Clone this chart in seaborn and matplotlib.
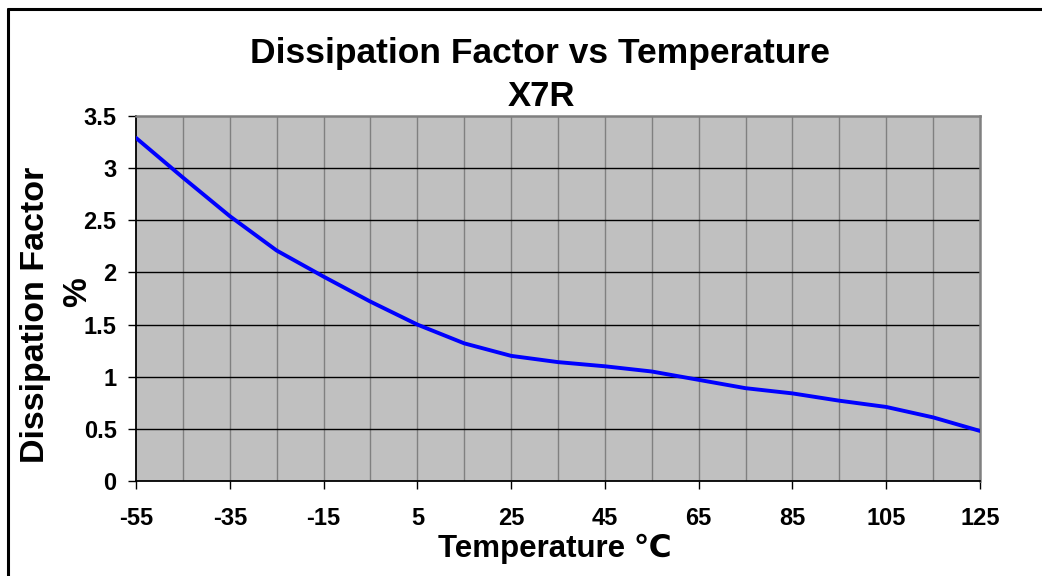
import numpy as np
import pandas as pd
import matplotlib
matplotlib.use("Agg")
import matplotlib.pyplot as plt
from matplotlib.lines import Line2D
import seaborn as sns

# Data
temperature = [-55, -45, -35, -25, -15, -5, 5, 15, 25, 35, 45, 55, 65, 75, 85, 95, 105, 115, 125]
dissipation = [3.29, 2.91, 2.54, 2.21, 1.96, 1.72, 1.50, 1.32, 1.20, 1.14, 1.10, 1.05,
               0.97, 0.89, 0.84, 0.77, 0.71, 0.61, 0.48]
x_ticks = [-55, -35, -15, 5, 25, 45, 65, 85, 105, 125]
y_ticks = [0, 0.5, 1, 1.5, 2, 2.5, 3, 3.5]
y_tick_labels = ["0", "0.5", "1", "1.5", "2", "2.5", "3", "3.5"]
title_line1 = "Dissipation Factor vs Temperature"
title_line2 = "X7R"
x_label = "Temperature \u2103"
y_label_line1 = "Dissipation Factor"
y_label_line2 = "%"

sns.set_theme(style="white", rc={"text.color": "black", "xtick.color": "black",
                                 "ytick.color": "black", "axes.labelcolor": "black"})
plt.rcParams['font.family'] = ['Liberation Sans', 'DejaVu Sans']
plt.rcParams['font.weight'] = 'bold'

df = pd.DataFrame({"Temperature": temperature, "DF": dissipation})

W, H = 1042, 576
fig = plt.figure(figsize=(W / 100, H / 100), dpi=100)
fig.patch.set_facecolor("white")
L, R, T, B = 136, 980, 116, 481
ax = fig.add_axes([L / W, 1 - B / H, (R - L) / W, (B - T) / H])
ax.set_facecolor("#C0C0C0")

# grid
for xv in np.arange(-45, 125, 10):
    ax.axvline(xv, color="#808080", lw=1.0, zorder=1)
for yv in y_ticks[1:-1]:
    ax.axhline(yv, color="black", lw=1.0, zorder=1)

sns.lineplot(data=df, x="Temperature", y="DF", ax=ax, color="#0000FF", lw=2.8, zorder=3)

ax.set_xlim(-55, 125)
ax.set_ylim(0, 3.5)
ax.set_xticks(x_ticks)
ax.set_xticklabels([str(v) for v in x_ticks], fontsize=17, fontweight='bold', color='black')
ax.set_yticks(y_ticks)
ax.set_yticklabels(y_tick_labels, fontsize=17, fontweight='bold', color='black')
ax.tick_params(axis='both', direction='out', length=6, width=1, color='black',
               bottom=True, left=True)
ax.tick_params(axis='y', pad=8)
ax.tick_params(axis='x', pad=13)

for side in ["left", "bottom"]:
    ax.spines[side].set_color("black")
    ax.spines[side].set_linewidth(1.3)
for side in ["top", "right"]:
    ax.spines[side].set_color("#808080")
    ax.spines[side].set_linewidth(1.8)

ax.set_xlabel("")
ax.set_ylabel("")

fig.text(540 / W, 1 - 54 / H, title_line1, ha='center', va='center', fontsize=25.5, fontweight='bold')
fig.text(541 / W, 1 - 96 / H, title_line2, ha='center', va='center', fontsize=25, fontweight='bold')
fig.text(555 / W, 1 - 549 / H, x_label, ha='center', va='center', fontsize=22.5, fontweight='bold')
fig.text(36 / W, 1 - 315 / H, y_label_line1, ha='center', va='center', rotation=90,
         fontsize=24.5, fontweight='bold')
fig.text(78 / W, 1 - 292 / H, y_label_line2, ha='center', va='center', rotation=90,
         fontsize=24, fontweight='bold')

# outer chart border (top and left visible)
fig.add_artist(Line2D([8 / W, 1.0], [1 - 9 / H, 1 - 9 / H], color='black', lw=2.2))
fig.add_artist(Line2D([8 / W, 8 / W], [0.0, 1 - 9 / H], color='black', lw=2.2))

fig.savefig("out.png", dpi=100, facecolor="white")
